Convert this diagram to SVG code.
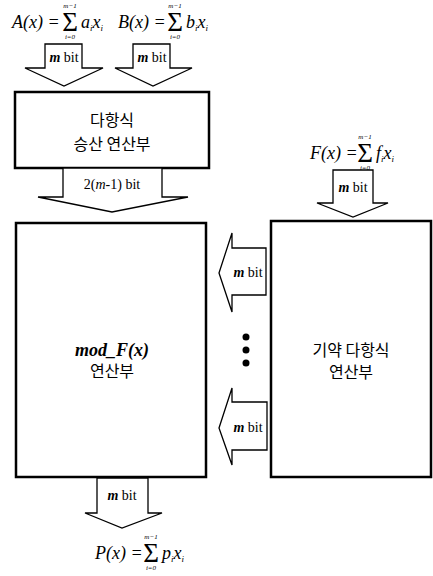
<svg xmlns="http://www.w3.org/2000/svg" width="433" height="576" viewBox="0 0 433 576">
<style>
.box{fill:#fff;stroke:#000;stroke-width:2.5}
.arr{fill:#fff;stroke:#000;stroke-width:1.3;stroke-linejoin:miter}
.lbl{font-family:"Liberation Serif",serif;font-size:14px;fill:#000}
.ko{font-family:"Noto Sans CJK KR","Noto Sans",sans-serif;font-size:16px;fill:#000;text-anchor:middle}
.f{font-family:"Liberation Serif",serif;font-style:italic;font-size:18px;fill:#000}
.fs{font-family:"Liberation Serif",serif;font-size:18px;fill:#000}
.sig{font-family:"Liberation Serif",serif;font-size:27px;fill:#000;text-anchor:middle}
.lim{font-family:"Liberation Serif",serif;font-style:italic;font-size:7px;fill:#000;text-anchor:middle}
.sub{font-family:"Liberation Serif",serif;font-style:italic;font-size:9px;fill:#000}
</style>
<g id="formula-A">
<text x="12" y="28" class="f">A<tspan class="fs">(</tspan>x<tspan class="fs">) =</tspan></text>
<text x="70" y="31" class="sig">Σ</text>
<text x="70" y="8" class="lim">m−1</text>
<text x="70" y="39" class="lim">i=0</text>
<text x="81" y="28" class="f">a<tspan class="sub" dy="3">i</tspan><tspan dy="-3">x</tspan><tspan class="sub" dy="3">i</tspan></text>
</g>
<g id="formula-B">
<text x="118" y="28" class="f">B<tspan class="fs">(</tspan>x<tspan class="fs">) =</tspan></text>
<text x="175" y="31" class="sig">Σ</text>
<text x="175" y="8" class="lim">m−1</text>
<text x="175" y="39" class="lim">i=0</text>
<text x="186" y="28" class="f">b<tspan class="sub" dy="3">i</tspan><tspan dy="-3">x</tspan><tspan class="sub" dy="3">i</tspan></text>
</g>
<g id="formula-F">
<text x="310" y="159" class="f">F<tspan class="fs">(</tspan>x<tspan class="fs">) =</tspan></text>
<text x="365" y="162" class="sig">Σ</text>
<text x="365" y="139" class="lim">m−1</text>
<text x="365" y="170" class="lim">i=0</text>
<text x="376" y="159" class="f">f<tspan class="sub" dy="3">i</tspan><tspan dy="-3">x</tspan><tspan class="sub" dy="3">i</tspan></text>
</g>
<g id="formula-P">
<text x="95" y="559" class="f">P<tspan class="fs">(</tspan>x<tspan class="fs">) =</tspan></text>
<text x="151" y="562" class="sig">Σ</text>
<text x="151" y="539" class="lim">m−1</text>
<text x="151" y="570" class="lim">i=0</text>
<text x="162" y="559" class="f">p<tspan class="sub" dy="3">i</tspan><tspan dy="-3">x</tspan><tspan class="sub" dy="3">i</tspan></text>
</g>
<g id="mult">
<rect class="box" x="15" y="92" width="194" height="76"/>
<text x="112" y="126" class="ko">다항식</text>
<text x="112" y="150" class="ko">승산 연산부</text>
</g>
<g id="mod">
<rect class="box" x="16" y="223" width="190" height="254"/>
<text x="112" y="356" class="f" text-anchor="middle" font-weight="bold" font-size="17">mod_F<tspan class="fs" font-weight="bold" font-size="17">(</tspan>x<tspan class="fs" font-weight="bold" font-size="17">)</tspan></text>
<text x="112" y="377" class="ko">연산부</text>
</g>
<g id="irr">
<rect class="box" x="271" y="221" width="160" height="256"/>
<text x="351" y="356" class="ko">기약 다항식</text>
<text x="351" y="378" class="ko">연산부</text>
</g>
<g id="connectors">
<polygon class="arr" points="45,44 82,44 82,68 103,68 64,86 25,68 45,68"/>
<text x="64" y="62" class="lbl" text-anchor="middle"><tspan font-style="italic" font-weight="bold">m</tspan> bit</text>
<polygon class="arr" points="133,44 170,44 170,68 192,68 153,86 115,68 133,68"/>
<text x="152" y="62" class="lbl" text-anchor="middle"><tspan font-style="italic" font-weight="bold">m</tspan> bit</text>
<polygon class="arr" points="63,168 162,168 162,197 188,197 112,212 38,197 63,197"/>
<text x="112" y="189" class="lbl" text-anchor="middle">2(<tspan font-style="italic">m</tspan>-1) bit</text>
<polygon class="arr" points="333,170 373,170 373,203 388,203 353,217 317,203 333,203"/>
<text x="353" y="192" class="lbl" text-anchor="middle"><tspan font-style="italic" font-weight="bold">m</tspan> bit</text>
<polygon class="arr" points="266,248 266,295 232,295 232,312 219,273 232,233 232,248"/>
<text x="248" y="277" class="lbl" text-anchor="middle"><tspan font-style="italic" font-weight="bold">m</tspan> bit</text>
<polygon class="arr" points="267,402 267,450 232,450 232,465 219,428 232,388 232,402"/>
<text x="248" y="432" class="lbl" text-anchor="middle"><tspan font-style="italic" font-weight="bold">m</tspan> bit</text>
<circle cx="246" cy="337" r="3.5"/>
<circle cx="246" cy="350" r="3.5"/>
<circle cx="246" cy="363" r="3.5"/>
<polygon class="arr" points="97,478 148,478 148,513 162,513 122,528 85,513 97,513"/>
<text x="122" y="500" class="lbl" text-anchor="middle"><tspan font-style="italic" font-weight="bold">m</tspan> bit</text>
</g>
</svg>
